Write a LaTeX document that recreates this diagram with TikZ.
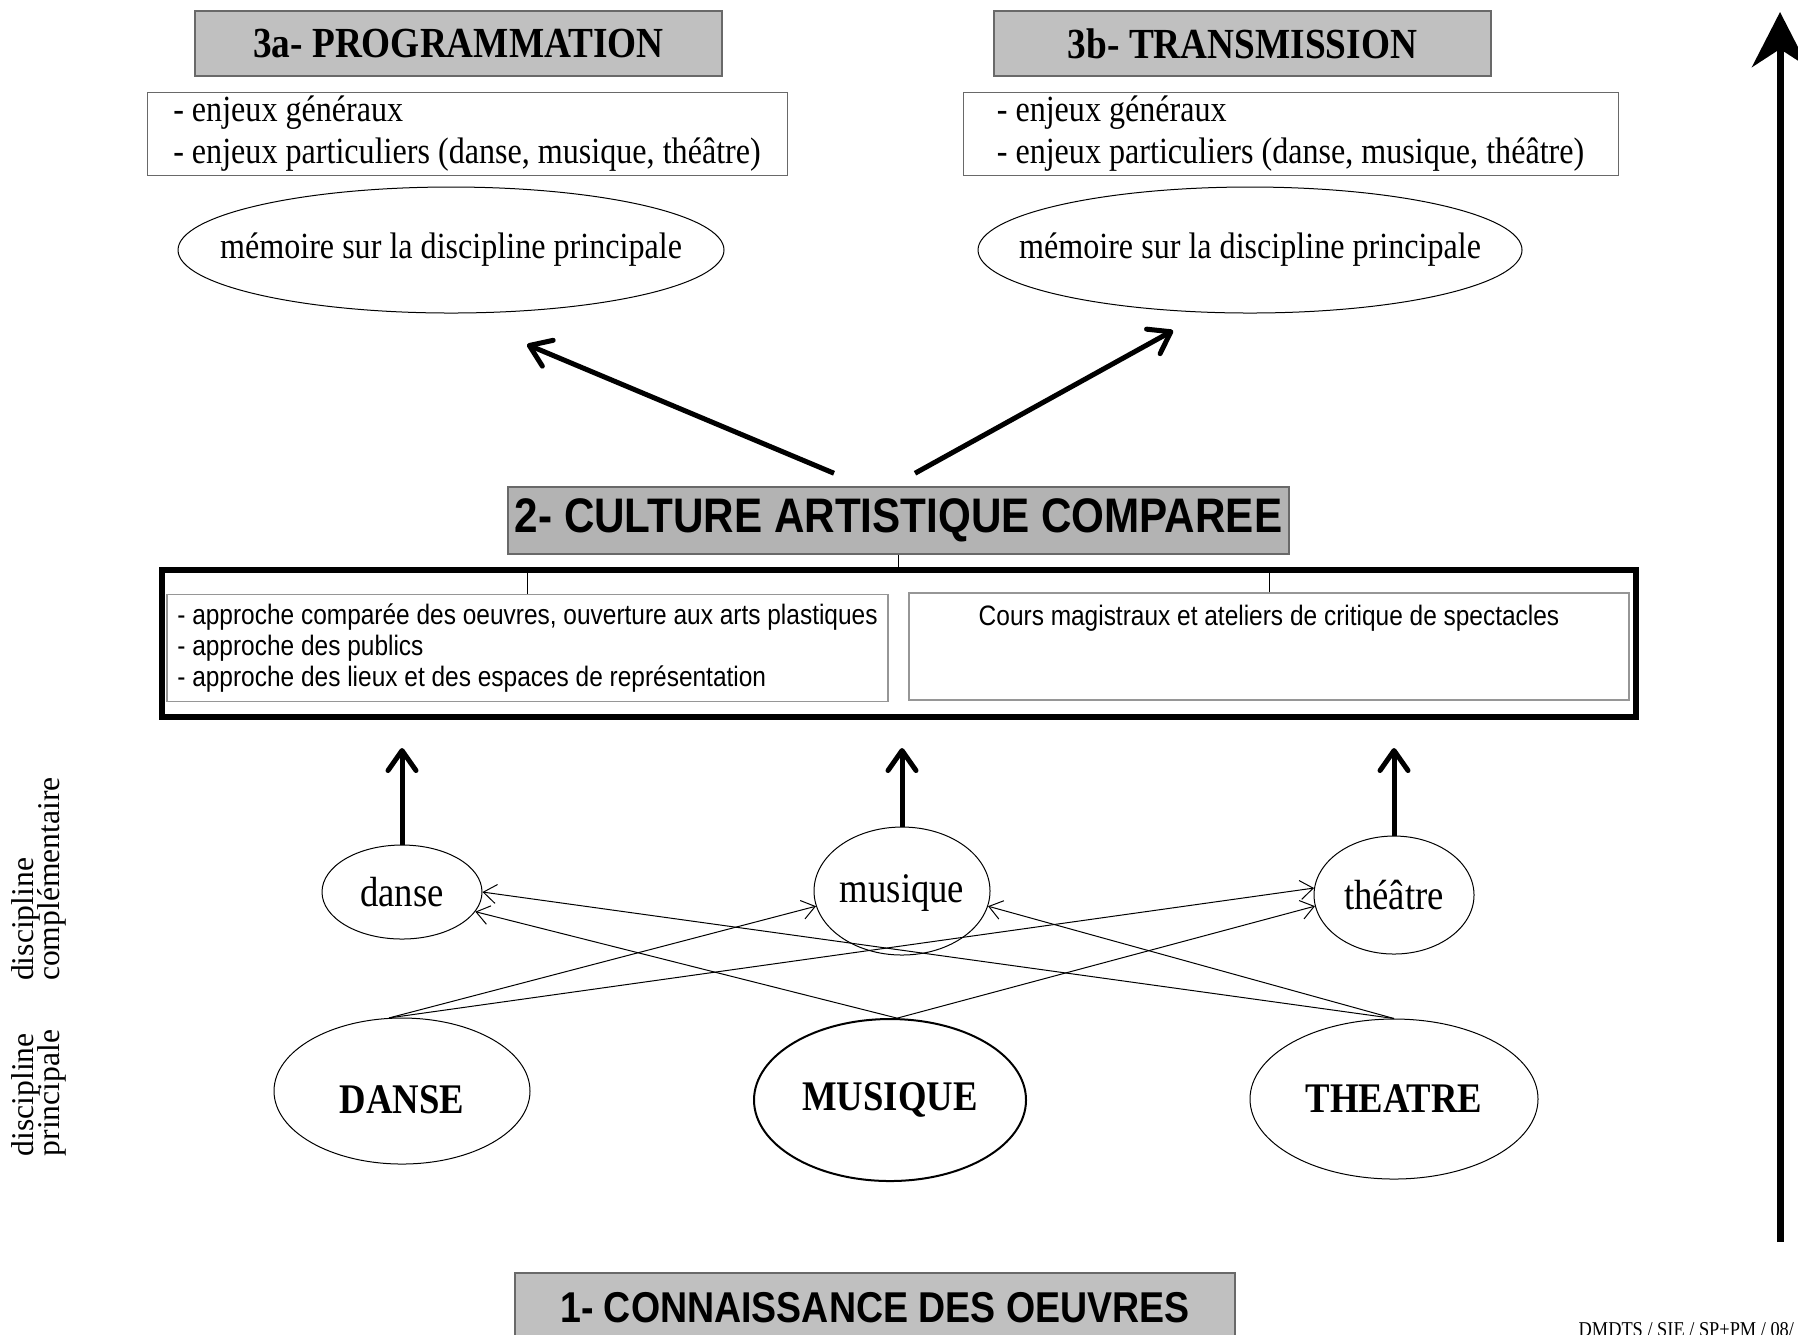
\documentclass[tikz,border=0pt]{standalone}
\usepackage{fontspec}
\setmainfont{Liberation Serif}[FakeStretch=0.87]
\setsansfont{Liberation Sans}[FakeStretch=0.87]
\newfontfamily\sidefont{Liberation Serif}
\usetikzlibrary{positioning,shapes.geometric,arrows.meta}
\definecolor{titlegray}{RGB}{192,192,192}
\definecolor{cultgray}{RGB}{179,179,179}
\definecolor{boxline}{RGB}{105,105,105}
\definecolor{subline}{RGB}{150,150,150}
\newcommand\sidesize{\sidefont\fontsize{9pt}{7.6pt}\selectfont\lineskiplimit=-20pt\relax}
\tikzstyle{titlebox}=[
draw=boxline,
fill=titlegray,
line width=0.15mm,
inner sep=0pt,
font=\fontsize{12.2pt}{14pt}\selectfont\bfseries
]
\tikzstyle{listbox}=[
draw=boxline,
line width=0.1mm,
align=left,
inner sep=0pt,
minimum height=8.3mm,
font=\fontsize{10.5pt}{11.8pt}\selectfont
]
\tikzstyle{oval}=[
draw=black,
shape=ellipse,
line width=0.1mm,
inner xsep=-2mm,
inner ysep=0pt,
font=\fontsize{12pt}{14pt}\selectfont
]
\tikzstyle{subbox}=[draw=subline,line width=0.15mm,inner sep=0pt,minimum height=10.7mm,font=\sffamily\fontsize{8pt}{8.7pt}\selectfont]
\tikzstyle{sidelabel}=[rotate=90,align=left,inner sep=0pt,font=\sidesize]
\tikzstyle{bigarrow}=[line width=0.5mm,-{Straight Barb[length=2mm,width=2.8mm,round]}]
\tikzstyle{link}=[line width=0.1mm,-{Straight Barb[length=1.3mm,width=1.9mm]}]
\tikzstyle{axisarrow}=[line width=0.7mm,-{Stealth[length=5.5mm,width=5.6mm,inset=1.8mm]}]

\begin{document}
\begin{tikzpicture}[x=0.1mm,y=-0.1mm]
\useasboundingbox (0,0) rectangle (1798,1334);
\fill[white] (0,0) rectangle (1798,1334);

\node[titlebox,minimum width=52.7mm,minimum height=6.5mm] (progr) at (458.5,43.5) {3a- PROGRAMMATION};
\node[titlebox,minimum width=49.7mm,minimum height=6.5mm] (trans) at (1242.5,43.5) {3b- TRANSMISSION};

\node[listbox,minimum width=64mm] (enjeuxA) at (467,133.5) {- enjeux généraux\\- enjeux particuliers (danse, musique, théâtre)};
\node[listbox,minimum width=65.5mm] (enjeuxB) at (1290.5,133.5) {- enjeux généraux\\- enjeux particuliers (danse, musique, théâtre)};

\node[oval,inner xsep=-8mm,minimum width=54.6mm,minimum height=12.6mm,font=\fontsize{10.5pt}{12pt}\selectfont] (memA) at (451,250) {mémoire sur la discipline principale};
\node[oval,inner xsep=-8mm,minimum width=54.4mm,minimum height=12.6mm,font=\fontsize{10.5pt}{12pt}\selectfont] (memB) at (1250,250) {mémoire sur la discipline principale};

\node[titlebox,fill=cultgray,minimum width=78.1mm,minimum height=6.7mm,font=\sffamily\fontsize{13.8pt}{16pt}\selectfont\bfseries] (cult) at (898.5,520.5) {2- CULTURE ARTISTIQUE COMPAREE};

\node[subbox,minimum width=72.1mm,align=left] (approche) at (527.5,648) {- approche comparée des oeuvres, ouverture aux arts plastiques\\- approche des publics\\- approche des lieux et des espaces de représentation};
\node[subbox,minimum width=72mm] (cours) at (1269,646.5) {};
\node[anchor=base,inner sep=0pt,font=\sffamily\fontsize{8pt}{9pt}\selectfont] (courstext) at ([yshift=-3.3mm]cours.north) {Cours magistraux et ateliers de critique de spectacles};

\draw[line width=0.1mm] (cult.south) -- (cult.south |- 0,570);
\draw[line width=0.1mm] (approche.north) -- (approche.north |- 0,570);
\draw[line width=0.1mm] (cours.north) -- (cours.north |- 0,570);
\node[draw,line width=0.6mm,minimum width=147.4mm,minimum height=14.7mm] (frame) at (899,643.5) {};

\draw[bigarrow] ([xshift=-6.45mm,yshift=1.3mm]cult.north) -- ([xshift=7.6mm,yshift=-3.1mm]memA.south);
\draw[bigarrow] ([xshift=1.65mm,yshift=1.3mm]cult.north) -- ([xshift=-7.7mm,yshift=-1.7mm]memB.south);

\node[oval,minimum width=16mm,minimum height=9.4mm] (danse) at (402,892) {danse};
\node[oval,text height=3.2mm,minimum width=17.6mm,minimum height=12.8mm] (musique) at (902,891) {musique};
\node[oval,minimum width=16mm,minimum height=11.8mm] (theatre) at (1394,895) {théâtre};

\node[oval,text height=4.6mm,minimum width=25.6mm,minimum height=14.6mm,font=\fontsize{12pt}{14pt}\selectfont\bfseries] (DANSE) at (402,1091) {DANSE};
\node[oval,line width=0.2mm,minimum width=27.2mm,minimum height=16.2mm,font=\fontsize{12pt}{14pt}\selectfont\bfseries] (MUSIQUE) at (890,1100) {MUSIQUE};
\node[oval,minimum width=28.8mm,minimum height=16mm,font=\fontsize{12pt}{14pt}\selectfont\bfseries] (THEATRE) at (1394,1099) {THEATRE};

\draw[bigarrow,shorten >=2.8mm] (danse.north) -- (danse.north |- frame.south);
\draw[bigarrow,shorten >=2.8mm] (musique.north) -- (musique.north |- frame.south);
\draw[bigarrow,shorten >=2.8mm] (theatre.north) -- (theatre.north |- frame.south);

\path[link]
(DANSE.100) edge (musique.190)
(DANSE.100) edge (theatre.175)
(MUSIQUE.85) edge (danse.345)
(MUSIQUE.85) edge (theatre.188)
(THEATRE.north) edge (danse.0)
(THEATRE.north) edge (musique.350);

\node[sidelabel] (complabel) at (39,879) {discipline\\complémentaire};
\node[sidelabel] (princlabel) at (39,1093) {discipline\\principale};

\node[titlebox,minimum width=72mm,minimum height=7mm,font=\sffamily\fontsize{12.27pt}{14pt}\selectfont\bfseries] (connaissance) at (875,1308) {1- CONNAISSANCE DES OEUVRES};

\coordinate (axisbot) at (1780,1242);
\coordinate (axistop) at (1780,12);
\draw[axisarrow] (axisbot) -- (axistop);

\node[anchor=base west,inner sep=0pt,font=\fontsize{6pt}{7pt}\selectfont] (ref) at (1578,1336) {DMDTS / SIE / SP+PM / 08/};
\end{tikzpicture}
\end{document}
